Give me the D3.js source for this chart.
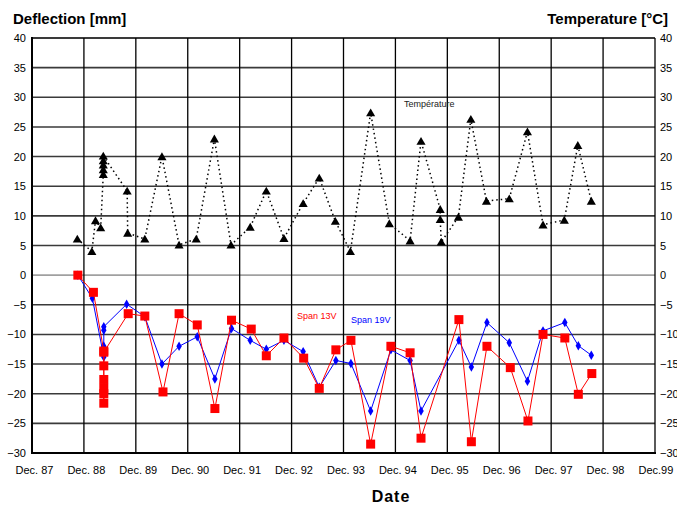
<!DOCTYPE html>
<html>
<head>
<meta charset="utf-8">
<script src="https://cdn.jsdelivr.net/npm/d3@7"></script>
<style>
  body { margin: 0; background: #fff; }
  svg { font-family: Arial, "Liberation Sans", sans-serif; }
</style>
</head>
<body>
<svg id="chart" width="677" height="505"></svg>
<script>
// years are decimal (Dec. 87 = 1987.917)
var xTickLabels = ["Dec. 87", "Dec. 88", "Dec. 89", "Dec. 90", "Dec. 91", "Dec. 92",
                   "Dec. 93", "Dec. 94", "Dec. 95", "Dec. 96", "Dec. 97", "Dec. 98", "Dec.99"];
var yTicks = [40, 35, 30, 25, 20, 15, 10, 5, 0, -5, -10, -15, -20, -25, -30];

var tempYears = [1988.79, 1989.07, 1989.14, 1989.24, 1989.29, 1989.29, 1989.29, 1989.29, 1989.29,
                 1989.75, 1989.76, 1990.09, 1990.42, 1990.75, 1991.08, 1991.43, 1991.75, 1992.12,
                 1992.43, 1992.77, 1993.14, 1993.45, 1993.76, 1994.05, 1994.44, 1994.80, 1995.20,
                 1995.41, 1995.78, 1995.78, 1995.80, 1996.13, 1996.37, 1996.67, 1997.11, 1997.46,
                 1997.76, 1998.17, 1998.43, 1998.69];
var tempValues = [6.1, 4.0, 9.2, 8.0, 17.0, 17.8, 18.6, 19.3, 20.1,
                  14.2, 7.1, 6.1, 20.0, 5.1, 6.1, 23.0, 5.1, 8.1,
                  14.2, 6.2, 12.1, 16.4, 9.1, 4.0, 27.4, 8.7, 5.8,
                  22.6, 11.1, 9.4, 5.6, 9.8, 26.3, 12.5, 12.9, 24.2,
                  8.5, 9.3, 21.9, 12.5];

var span13Years = [1988.80, 1989.10, 1989.30, 1989.30, 1989.30, 1989.30, 1989.30, 1989.30, 1989.30,
                   1989.77, 1990.09, 1990.44, 1990.75, 1991.10, 1991.44, 1991.76, 1992.14, 1992.43,
                   1992.77, 1993.15, 1993.45, 1993.77, 1994.06, 1994.44, 1994.83, 1995.20, 1995.41,
                   1996.14, 1996.38, 1996.68, 1997.13, 1997.47, 1997.76, 1998.18, 1998.44, 1998.70];
var span13Values = [0, -2.9, -12.8, -21.6, -20.0, -19.1, -17.6, -15.3, -13.0,
                    -6.5, -6.9, -19.7, -6.5, -8.4, -22.5, -7.6, -9.1, -13.6,
                    -10.6, -14.0, -19.1, -12.6, -11.0, -28.5, -12.0, -13.1, -27.5,
                    -7.5, -28.1, -12.0, -15.6, -24.6, -10.0, -10.6, -20.1, -16.6];

var span19Years = [1988.80, 1989.08, 1989.30, 1989.30, 1989.30, 1989.30, 1989.74, 1990.09,
                   1990.42, 1990.75, 1991.10, 1991.44, 1991.76, 1992.12, 1992.43, 1992.77,
                   1993.14, 1993.45, 1993.77, 1994.06, 1994.44, 1994.83, 1995.20, 1995.41,
                   1996.14, 1996.38, 1996.68, 1997.11, 1997.46, 1997.76, 1998.18, 1998.44, 1998.69];
var span19Values = [0, -3.9, -13.8, -12.0, -9.3, -8.7, -4.9, -7.0,
                    -15.0, -12.0, -10.4, -17.5, -9.0, -11.0, -12.5, -11.0,
                    -12.9, -18.9, -14.4, -14.9, -22.9, -12.6, -14.4, -22.9,
                    -11.0, -15.5, -8.0, -11.4, -17.9, -9.4, -8.0, -11.9, -13.5];

var svg = d3.select('#chart');
var plotLeft = 32, plotRight = 655, plotTop = 38, plotBottom = 453;

var x = d3.scaleLinear().domain([1987.917, 1999.917]).range([plotLeft, plotRight]);
var y = d3.scaleLinear().domain([-30, 40]).range([plotBottom, plotTop]);
var xTicks = d3.range(xTickLabels.length).map(function(i){ return 1987.917 + i; });

function zip(xs, ys){
    return xs.map(function(v, i){ return [v, ys[i]]; });
}

// horizontal grid
svg.append('g').selectAll('line')
   .data(yTicks)
   .enter().append('line')
   .attr('x1', plotLeft).attr('x2', plotRight)
   .attr('y1', function(d){ return y(d); })
   .attr('y2', function(d){ return y(d); })
   .attr('stroke', function(d){ return d === 0 ? '#a0a0a0' : '#3a3a3a'; })
   .attr('stroke-width', function(d){ return d === 40 ? 2 : 1.6; });

// vertical grid
svg.append('g').selectAll('line')
   .data(xTicks)
   .enter().append('line')
   .attr('x1', function(d){ return x(d); })
   .attr('x2', function(d){ return x(d); })
   .attr('y1', plotTop).attr('y2', plotBottom)
   .attr('stroke', '#000')
   .attr('stroke-width', 1.3);

// frame
svg.append('line').attr('x1', plotLeft).attr('x2', plotLeft)
   .attr('y1', plotTop - 1).attr('y2', plotBottom + 1)
   .attr('stroke', '#000').attr('stroke-width', 2);
svg.append('line').attr('x1', plotLeft - 1).attr('x2', plotRight + 1)
   .attr('y1', plotBottom).attr('y2', plotBottom)
   .attr('stroke', '#000').attr('stroke-width', 2);

// axes
var yLeft = d3.axisLeft(y).tickValues(yTicks).tickSize(0).tickPadding(6);
var yRight = d3.axisRight(y).tickValues(yTicks).tickSize(0).tickPadding(5);
var xAxis = d3.axisBottom(x).tickValues(xTicks).tickSize(0).tickPadding(13)
              .tickFormat(function(d, i){ return xTickLabels[i]; });

function styleAxis(g){
    g.select('.domain').remove();
    g.selectAll('text').attr('font-size', 11).attr('fill', '#000')
     .attr('font-family', 'Arial, "Liberation Sans", sans-serif');
}

svg.append('g').attr('transform', 'translate(' + plotLeft + ',0)').call(yLeft).call(styleAxis);
svg.append('g').attr('transform', 'translate(' + plotRight + ',0)').call(yRight).call(styleAxis);
svg.append('g').attr('transform', 'translate(0,' + plotBottom + ')').call(xAxis).call(styleAxis)
   .selectAll('text').attr('text-anchor', 'start').attr('dx', -17);

var line = d3.line().x(function(d){ return x(d[0]); }).y(function(d){ return y(d[1]); });

// temperature
var temp = zip(tempYears, tempValues);
svg.append('path').datum(temp)
   .attr('d', line)
   .attr('fill', 'none')
   .attr('stroke', '#000')
   .attr('stroke-width', 1.5)
   .attr('stroke-dasharray', '1.5,3');

svg.append('g').selectAll('path')
   .data(temp)
   .enter().append('path')
   .attr('d', d3.symbol().type(d3.symbolTriangle).size(36))
   .attr('transform', function(d){ return 'translate(' + x(d[0]) + ',' + (y(d[1]) + 1) + ')'; })
   .attr('fill', '#000');

// span 19V
var s19 = zip(span19Years, span19Values);
svg.append('path').datum(s19)
   .attr('d', line)
   .attr('fill', 'none')
   .attr('stroke', '#0000ff')
   .attr('stroke-width', 1);

svg.append('g').selectAll('path')
   .data(s19)
   .enter().append('path')
   .attr('d', d3.symbol().type(d3.symbolDiamond).size(26))
   .attr('transform', function(d){ return 'translate(' + x(d[0]) + ',' + y(d[1]) + ')'; })
   .attr('fill', '#0000ff');

// span 13V
var s13 = zip(span13Years, span13Values);
svg.append('path').datum(s13)
   .attr('d', line)
   .attr('fill', 'none')
   .attr('stroke', '#ff0000')
   .attr('stroke-width', 1);

svg.append('g').selectAll('rect')
   .data(s13)
   .enter().append('rect')
   .attr('x', function(d){ return x(d[0]) - 4.5; })
   .attr('y', function(d){ return y(d[1]) - 4.5; })
   .attr('width', 9).attr('height', 9)
   .attr('fill', '#ff0000');

// series labels
svg.append('text').attr('x', 404).attr('y', 107).attr('font-size', 9).attr('fill', '#222')
   .text('Température');
svg.append('text').attr('x', 297).attr('y', 319).attr('font-size', 9).attr('fill', '#ff0000')
   .text('Span 13V');
svg.append('text').attr('x', 351).attr('y', 323).attr('font-size', 9).attr('fill', '#0000ff')
   .text('Span 19V');

// titles
svg.append('text').attr('x', 13).attr('y', 24).attr('font-size', 15).attr('font-weight', 'bold')
   .text('Deflection [mm]');
svg.append('text').attr('x', 668).attr('y', 24).attr('font-size', 15).attr('font-weight', 'bold')
   .attr('text-anchor', 'end')
   .text('Temperature [°C]');
svg.append('text').attr('x', 391).attr('y', 502).attr('font-size', 16).attr('font-weight', 'bold')
   .attr('text-anchor', 'middle').attr('letter-spacing', 1)
   .text('Date');
</script>
</body>
</html>
